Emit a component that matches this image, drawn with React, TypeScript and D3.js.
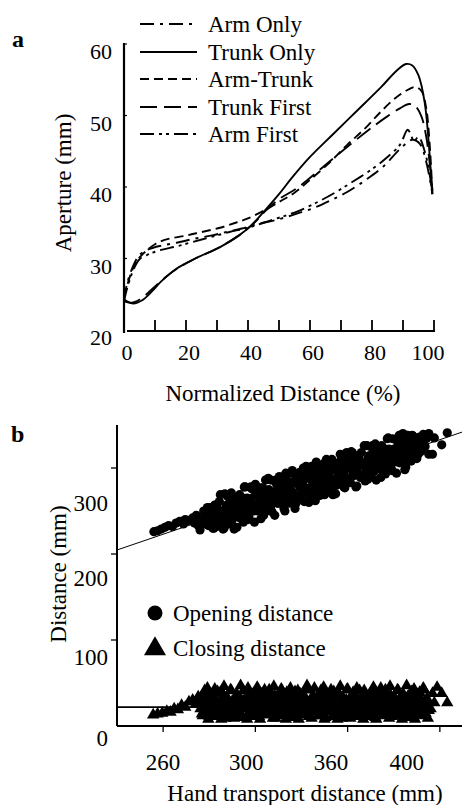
import React from "react";
import * as d3 from "d3";

const FONT = "Liberation Serif, DejaVu Serif, serif";

// ---------- Panel a : aperture profiles ----------
const seriesNames = ["Arm Only", "Trunk Only", "Arm-Trunk", "Trunk First", "Arm First"];
const seriesDash = ["14 6 3 6", "", "9 5", "17 7", "14 5 3 4 3 5"];

const armOnly: [number, number][] = [[0,24.2],[1,26.5],[3,29],[5,30.5],[8,31.3],[12,31.8],[17,32.2],[22,32.7],[28,33.2],[33,33.7],[38,34.2],[43,34.8],[50,35.5],[56,36.3],[62,37.2],[67,38.2],[72,39.3],[78,41],[84,43],[89,45.3],[93,46.6],[95.5,46],[97.5,43.5],[99.5,39]];
const trunkOnly: [number, number][] = [[0,24.3],[1,24],[3,23.7],[6,24.2],[9,25.4],[12,26.8],[17,28.6],[23,30],[31,31.6],[37,33.2],[41,34.6],[45,36.5],[50,39],[54,41.2],[60,44.2],[67,47.2],[75,50.6],[83,54],[88,56.3],[91,57.2],[93,57],[95,55.6],[97,51.8],[98.5,45],[99.4,39]];
const armTrunk: [number, number][] = [[0,24.6],[1,26.2],[2.5,28.2],[4,29.6],[7,31],[10,32],[14,32.7],[20,33.2],[25,33.7],[31,34.3],[36,35],[40,35.6],[46,36.9],[50,37.9],[55,39.2],[60,41],[66.5,43.5],[72,45.9],[78,48.3],[83,50.6],[88,52.6],[92,53.7],[94,54],[96,53.4],[97.5,51],[98.6,46],[99.5,39]];
const trunkFirst: [number, number][] = [[0,24],[2,23.8],[4,24],[7,24.9],[10,26.1],[14,27.6],[18,28.8],[23,30],[30,31.4],[37,33.2],[42,35],[46,36.8],[50,38.3],[56,39.9],[62,42],[70,44.9],[79,48],[84,49.6],[89,51],[92,51.6],[94,51.3],[96,49.8],[97.5,47],[98.7,43],[99.5,39.5]];
const armFirst: [number, number][] = [[0,24],[1,25.8],[3,28.4],[5,29.9],[8,30.6],[12,31.2],[17,31.7],[22,32.3],[28,33],[34,33.7],[40,34.3],[45,35],[50,35.7],[56,36.6],[62,37.8],[68,39.2],[74,40.8],[80,42.5],[85,44.2],[89,45.9],[91.5,48],[92.5,47.4],[93.5,46.4],[95,47],[97,45],[98.5,42],[99.5,39]];
const seriesData = [armOnly, trunkOnly, armTrunk, trunkFirst, armFirst];

const aXTicks = [10, 20, 30, 40, 50, 60, 70, 80, 90, 100];
const aXLabels = [0, 20, 40, 60, 80, 100];
const aYTicks = [20, 30, 40, 50, 60];

// ---------- Panel b : opening / closing distance ----------
const openingPoints: [number, number][] = [
[255,226],[257,227],[259,229],[261,231],[263,233],[265,232],[267,236],[269,238],[271,235],[272,240],[274,239],[276,242],[277,236],[278,245],[279,233],
[280,228],[281,241],[282,250],[283,235],[284,254],[285,239],[286,249],[287,230],[288,257],[289,232],[290,247],[291,269],[292,240],[293,230],[294,253],[295,267],[296,240],[297,271],[298,248],[299,263],[300,231],[301,267],[302,242],[303,257],[304,278],[305,250],[306,240],[307,262],[308,276],[309,250],[310,281],[311,257],[312,272],[313,241],[314,277],[315,251],[316,266],[317,288],[318,260],[319,249],[320,272],[321,286],[322,259],[323,290],[324,267],[325,282],[326,250],[327,286],[328,261],[329,276],[330,297],[331,269],[332,259],[333,282],[334,295],[335,269],[336,300],[337,276],[338,291],[339,260],[340,296],[341,270],[342,285],[343,307],[344,279],[345,268],[346,291],[347,305],[348,279],[349,309],[350,286],[351,301],[352,269],[353,305],[354,280],[355,295],[356,316],[357,288],[358,278],[359,301],[360,314],[361,288],[362,319],[363,296],[364,310],[365,279],[366,315],[367,289],[368,304],[369,326],[370,298],[371,287],[372,310],[373,324],[374,298],[375,328],[376,305],[377,320],[378,289],[379,324],[380,299],[381,314],[382,335],[383,307],[384,297],[385,320],[386,333],[387,307],[388,338],[389,315],[390,329],[391,298],[392,334],[393,309],[394,323],[395,338],[396,319],[397,313],[398,327],[399,336],[400,321],[401,339],[402,325],[403,335],[404,316],
[283.5,245],[284.5,233],[285.5,254],[286.5,240],[287.5,230],[288.5,257],[289.5,235],[290.5,261],[291.5,247],[292.5,229],[293.5,270],[294.5,257],[295.5,235],[296.5,270],[297.5,247],[298.5,229],[299.5,265],[300.5,243],[301.5,269],[302.5,255],[303.5,237],[304.5,278],[305.5,265],[306.5,243],[307.5,278],[308.5,255],[309.5,237],[310.5,273],[311.5,251],[312.5,277],[313.5,263],[314.5,245],[315.5,286],[316.5,273],[317.5,251],[318.5,286],[319.5,263],[320.5,245],[321.5,281],[322.5,259],[323.5,286],[324.5,271],[325.5,253],[326.5,294],[327.5,282],[328.5,259],[329.5,294],[330.5,271],[331.5,253],[332.5,289],[333.5,267],[334.5,294],[335.5,279],[336.5,261],[337.5,302],[338.5,290],[339.5,267],[340.5,302],[341.5,279],[342.5,262],[343.5,297],[344.5,275],[345.5,302],[346.5,287],[347.5,269],[348.5,310],[349.5,298],[350.5,275],[351.5,310],[352.5,287],[353.5,270],[354.5,305],[355.5,283],[356.5,310],[357.5,296],[358.5,277],[359.5,318],[360.5,306],[361.5,283],[362.5,318],[363.5,295],[364.5,278],[365.5,313],[366.5,291],[367.5,318],[368.5,304],[369.5,285],[370.5,326],[371.5,314],[372.5,292],[373.5,326],[374.5,303],[375.5,286],[376.5,321],[377.5,299],[378.5,326],[379.5,312],[380.5,293],[381.5,334],[382.5,322],[383.5,300],[384.5,334],[385.5,311],[386.5,294],[387.5,330],[388.5,307],[389.5,334],[390.5,320],[391.5,301],[392.5,338],[393.5,330],[394.5,308],[395.5,337],[396.5,319],[397.5,311],[398.5,333],[399.5,319],[400.5,336],[401.5,328],
[285.25,242],[286.25,234],[287.25,250],[288.25,241],[289.25,254],[290.25,234],[291.25,250],[292.25,247],[293.25,239],[294.25,255],[295.25,246],[296.25,260],[297.25,239],[298.25,255],[299.25,252],[300.25,244],[301.25,260],[302.25,251],[303.25,265],[304.25,244],[305.25,260],[306.25,257],[307.25,250],[308.25,265],[309.25,256],[310.25,270],[311.25,250],[312.25,265],[313.25,262],[314.25,255],[315.25,270],[316.25,261],[317.25,275],[318.25,255],[319.25,270],[320.25,267],[321.25,260],[322.25,276],[323.25,266],[324.25,280],[325.25,260],[326.25,276],[327.25,272],[328.25,265],[329.25,281],[330.25,271],[331.25,285],[332.25,265],[333.25,281],[334.25,277],[335.25,270],[336.25,286],[337.25,277],[338.25,290],[339.25,270],[340.25,286],[341.25,283],[342.25,275],[343.25,291],[344.25,282],[345.25,295],[346.25,275],[347.25,291],[348.25,288],[349.25,280],[350.25,296],[351.25,287],[352.25,301],[353.25,280],[354.25,296],[355.25,293],[356.25,286],[357.25,301],[358.25,292],[359.25,306],[360.25,285],[361.25,301],[362.25,298],[363.25,291],[364.25,306],[365.25,297],[366.25,311],[367.25,291],[368.25,306],[369.25,303],[370.25,296],[371.25,312],[372.25,302],[373.25,316],[374.25,296],[375.25,311],[376.25,308],[377.25,301],[378.25,317],[379.25,307],[380.25,321],[381.25,301],[382.25,317],[383.25,313],[384.25,306],[385.25,322],[386.25,313],[387.25,326],[388.25,306],[389.25,322],[390.25,318],[391.25,311],[392.25,327],[393.25,318],[394.25,331],[395.25,311],[396.25,327],[397.25,324],[398.25,316],[399.25,332],
[390,340],[394,333],[399,333],[404,340],[406,316],[407,335],[411,327],[414,341]
];

const closingPoints: [number, number][] = [
[254.6,13],[257,14],[259.5,15],[262,17],[264,16],[266,20],[268,19],[270,24],[272,22],[274,28],[276,30],[278,26],[279,34],
[281,14],[282,36],[283,24],[284,44],[285,11],[286,31],[287,19],[288,43],[289,27],
[290,13],[291,39],[292,23],[293,46],[294,9],[295,32],[296,18],[297,41],[298,28],
[299,15],[300,37],[301,25],[302,47],[303,10],[304,30],[305,20],[306,44],[307,26],
[308,12],[309,38],[310,22],[311,45],[312,11],[313,33],[314,17],[315,42],[316,29],
[317,14],[318,36],[319,24],[320,46],[321,9],[322,31],[323,19],[324,43],[325,27],
[326,13],[327,39],[328,23],[329,44],[330,10],[331,32],[332,18],[333,41],[334,28],
[335,15],[336,37],[337,25],[338,47],[339,11],[340,30],[341,20],[342,44],[343,26],
[344,12],[345,38],[346,22],[347,45],[348,10],[349,33],[350,17],[351,42],[352,29],
[353,14],[354,36],[355,24],[356,46],[357,9],[358,31],[359,19],[360,43],[361,27],
[362,13],[363,39],[364,23],[365,44],[366,11],[367,32],[368,18],[369,41],[370,28],
[371,15],[372,37],[373,25],[374,45],[375,10],[376,30],[377,20],[378,44],[379,26],
[380,12],[381,38],[382,22],[383,46],[384,11],[385,33],[386,17],[387,42],[388,29],
[389,14],[390,36],[391,24],[392,47],[393,10],[394,31],[395,19],[396,43],[397,27],
[398,13],[399,39],[400,23],[401,44],[402,12],[403,32],[404,18],
[280.5,33],[281.5,12],[282.5,41],[283.5,22],[284.5,8],[285.5,36],[286.5,17],
[287.5,34],[288.5,11],[289.5,40],[290.5,21],[291.5,8],[292.5,37],[293.5,16],
[294.5,32],[295.5,13],[296.5,42],[297.5,23],[298.5,9],[299.5,35],[300.5,18],
[301.5,33],[302.5,12],[303.5,41],[304.5,22],[305.5,8],[306.5,36],[307.5,17],
[308.5,34],[309.5,11],[310.5,40],[311.5,21],[312.5,8],[313.5,37],[314.5,16],
[315.5,32],[316.5,13],[317.5,42],[318.5,23],[319.5,9],[320.5,35],[321.5,18],
[322.5,33],[323.5,12],[324.5,41],[325.5,22],[326.5,8],[327.5,36],[328.5,17],
[329.5,34],[330.5,11],[331.5,40],[332.5,21],[333.5,8],[334.5,37],[335.5,16],
[336.5,32],[337.5,13],[338.5,42],[339.5,23],[340.5,9],[341.5,35],[342.5,18],
[343.5,33],[344.5,12],[345.5,41],[346.5,22],[347.5,8],[348.5,36],[349.5,17],
[350.5,34],[351.5,11],[352.5,40],[353.5,21],[354.5,8],[355.5,37],[356.5,16],
[357.5,32],[358.5,13],[359.5,42],[360.5,23],[361.5,9],[362.5,35],[363.5,18],
[364.5,33],[365.5,12],[366.5,41],[367.5,22],[368.5,8],[369.5,36],[370.5,17],
[371.5,34],[372.5,11],[373.5,40],[374.5,21],[375.5,8],[376.5,37],[377.5,16],
[378.5,32],[379.5,13],[380.5,42],[381.5,23],[382.5,9],[383.5,35],[384.5,18],
[385.5,33],[386.5,12],[387.5,41],[388.5,22],[389.5,8],[390.5,36],[391.5,17],
[392.5,34],[393.5,11],[394.5,40],[395.5,21],[396.5,8],[397.5,37],[398.5,16],
[399.5,32],[400.5,13],[401.5,42],[402.5,23],[403.5,9],
[280.25,20],[281.25,28],[282.25,16],[283.25,25],[284.25,31],[285.25,18],[286.25,23],[287.25,29],
[288.25,21],[289.25,27],[290.25,15],[291.25,26],[292.25,32],[293.25,17],[294.25,24],[295.25,30],
[296.25,20],[297.25,28],[298.25,16],[299.25,25],[300.25,31],[301.25,18],[302.25,23],[303.25,29],
[304.25,21],[305.25,27],[306.25,15],[307.25,26],[308.25,32],[309.25,17],[310.25,24],[311.25,30],
[312.25,20],[313.25,28],[314.25,16],[315.25,25],[316.25,31],[317.25,18],[318.25,23],[319.25,29],
[320.25,21],[321.25,27],[322.25,15],[323.25,26],[324.25,32],[325.25,17],[326.25,24],[327.25,30],
[328.25,20],[329.25,28],[330.25,16],[331.25,25],[332.25,31],[333.25,18],[334.25,23],[335.25,29],
[336.25,21],[337.25,27],[338.25,15],[339.25,26],[340.25,32],[341.25,17],[342.25,24],[343.25,30],
[344.25,20],[345.25,28],[346.25,16],[347.25,25],[348.25,31],[349.25,18],[350.25,23],[351.25,29],
[352.25,21],[353.25,27],[354.25,15],[355.25,26],[356.25,32],[357.25,17],[358.25,24],[359.25,30],
[360.25,20],[361.25,28],[362.25,16],[363.25,25],[364.25,31],[365.25,18],[366.25,23],[367.25,29],
[368.25,21],[369.25,27],[370.25,15],[371.25,26],[372.25,32],[373.25,17],[374.25,24],[375.25,30],
[376.25,20],[377.25,28],[378.25,16],[379.25,25],[380.25,31],[381.25,18],[382.25,23],[383.25,29],
[384.25,21],[385.25,27],[386.25,15],[387.25,26],[388.25,32],[389.25,17],[390.25,24],[391.25,30],
[392.25,20],[393.25,28],[394.25,16],[395.25,25],[396.25,31],[397.25,18],[398.25,23],[399.25,29],
[400.25,21],[401.25,27],[402.25,15],[403.25,26],
[405,20],[406,38],[407,27],[408.5,45],[411,38],[414,27],[392,10]
];

const bXTicks = [260, 310, 360, 410];
const bXLabels = ["260", "300", "360", "400"];
const bXLabelAt = [260, 305, 351, 392];
const bYTicks = [0, 100, 200, 300];
const bYLabels = ["0", "100", "200", "300"];
const bYLabelAt = [-14, 80, 172, 259];
const openingFit = { intercept: 32.4, slope: 0.733 };
const closingLevel = 22;
const legendB = ["Opening distance", "Closing distance"];

export default function App() {
  // panel a scales
  const xA = d3.scaleLinear().domain([0, 100]).range([124, 434]);
  const yA = d3.scaleLinear().domain([20, 60]).range([330, 44]);
  const lineA = d3
    .line<[number, number]>()
    .x((d) => xA(d[0]))
    .y((d) => yA(d[1]))
    .curve(d3.curveCatmullRom.alpha(0.5));

  // panel b scales
  const xB = d3.scaleLinear().domain([235, 422]).range([117, 462]);
  const yB = d3.scaleLinear().domain([0, 350]).range([726, 425]);
  const tri = d3.symbol().type(d3.symbolTriangle).size(66)();
  const triLegend = d3.symbol().type(d3.symbolTriangle).size(210)();
  const fitX0 = 235;
  const fitX1 = 422;
  const closingX1 = 405;

  const legendRowY = [24, 52, 79, 107, 134];
  const txt = { fontFamily: FONT } as React.CSSProperties;

  return (
    <svg
      width={462}
      height={805}
      style={{ position: "absolute", left: 0, top: 0, background: "#fff", fontFamily: FONT }}
    >
      <rect x={0} y={0} width={462} height={805} fill="#fff" />
      {/* ---------------- Panel a ---------------- */}
      <text x={12} y={47} fontSize={24} fontWeight="bold" style={txt}>a</text>
      {/* axes */}
      <line x1={xA(0)} x2={xA(0)} y1={43} y2={yA(20) + 3} stroke="#000" strokeWidth={2.2} />
      <line x1={xA(0) + 3} x2={xA(100) + 1} y1={yA(20) + 1} y2={yA(20) + 1} stroke="#000" strokeWidth={2} />
      {aXTicks.map((t) => (
        <line key={"axt" + t} x1={xA(t)} x2={xA(t)} y1={yA(20) + 1} y2={yA(20) - 10} stroke="#000" strokeWidth={1.8} />
      ))}
      {aYTicks.slice(1).map((t) => (
        <line key={"ayt" + t} x1={xA(0)} x2={xA(0) + 3} y1={yA(t)} y2={yA(t)} stroke="#000" strokeWidth={1.2} />
      ))}
      {aYTicks.map((t) => (
        <text key={"ayl" + t} x={112} y={yA(t) + 15} fontSize={22} textAnchor="end" style={txt}>{t}</text>
      ))}
      {aXLabels.map((t) => (
        <text key={"axl" + t} x={xA(t) + (t === 100 ? -6 : 3)} y={360} fontSize={22} textAnchor="middle" style={txt}>{t}</text>
      ))}
      <text x={283} y={401} fontSize={23} textAnchor="middle" style={txt}>Normalized Distance (%)</text>
      <text transform="translate(71,183) rotate(-90)" fontSize={23} textAnchor="middle" style={txt}>Aperture (mm)</text>
      {/* curves */}
      {seriesData.map((s, i) => (
        <path
          key={"s" + i}
          d={lineA(s) || ""}
          fill="none"
          stroke="#000"
          strokeWidth={1.9}
          strokeDasharray={seriesDash[i] || undefined}
        />
      ))}
      {/* legend */}
      {seriesNames.map((n, i) => (
        <g key={"lg" + i}>
          <line x1={140} x2={197} y1={legendRowY[i]} y2={legendRowY[i]} stroke="#000" strokeWidth={2} strokeDasharray={seriesDash[i] || undefined} />
          <text x={208} y={legendRowY[i] + 8} fontSize={23} style={txt}>{n}</text>
        </g>
      ))}

      {/* ---------------- Panel b ---------------- */}
      <text x={11} y={442} fontSize={24} fontWeight="bold" style={txt}>b</text>
      <line x1={xB(235)} x2={xB(235)} y1={425} y2={yB(0)} stroke="#000" strokeWidth={2} />
      <line x1={xB(235)} x2={462} y1={yB(0)} y2={yB(0)} stroke="#000" strokeWidth={2} />
      {bYTicks.slice(1).map((t) => (
        <line key={"byt" + t} x1={xB(235) - 6} x2={xB(235)} y1={yB(t)} y2={yB(t)} stroke="#000" strokeWidth={1.3} />
      ))}
      {bXTicks.map((t) => (
        <line key={"bxt" + t} x1={xB(t)} x2={xB(t)} y1={yB(0)} y2={yB(0) + 6} stroke="#000" strokeWidth={1.3} />
      ))}
      {bYLabels.map((l, i) => (
        <text key={"byl" + l} x={108} y={yB(bYLabelAt[i]) + 8} fontSize={23} textAnchor="end" style={txt}>{l}</text>
      ))}
      {bXLabels.map((l, i) => (
        <text key={"bxl" + l} x={xB(bXLabelAt[i])} y={770} fontSize={23} textAnchor="middle" style={txt}>{l}</text>
      ))}
      <text x={305} y={801} fontSize={23} textAnchor="middle" style={txt}>Hand transport distance (mm)</text>
      <text transform="translate(66,574) rotate(-90)" fontSize={23} textAnchor="middle" style={txt}>Distance (mm)</text>

      {/* regression lines */}
      <line
        x1={xB(fitX0)}
        x2={xB(fitX1)}
        y1={yB(openingFit.intercept + openingFit.slope * fitX0)}
        y2={yB(openingFit.intercept + openingFit.slope * fitX1)}
        stroke="#000"
        strokeWidth={1}
      />
      <line x1={xB(fitX0)} x2={xB(closingX1)} y1={yB(closingLevel)} y2={yB(closingLevel)} stroke="#000" strokeWidth={1.8} />

      {/* points */}
      {openingPoints.map((p, i) => (
        <circle key={"o" + i} cx={xB(p[0])} cy={yB(p[1])} r={4.6} fill="#000" />
      ))}
      {closingPoints.map((p, i) => (
        <path key={"c" + i} d={tri || ""} transform={`translate(${xB(p[0])},${yB(p[1])})`} fill="#000" />
      ))}

      {/* legend b */}
      <circle cx={155} cy={613} r={7.5} fill="#000" />
      <text x={173} y={621} fontSize={23} style={txt}>{legendB[0]}</text>
      <path d={triLegend || ""} transform="translate(155,649)" fill="#000" />
      <text x={173} y={656} fontSize={23} style={txt}>{legendB[1]}</text>
    </svg>
  );
}
